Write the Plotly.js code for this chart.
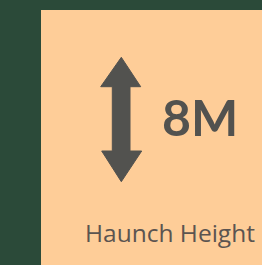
<!DOCTYPE html>
<html>
<head>
<meta charset="utf-8">
<script src="https://cdn.plot.ly/plotly-3.0.1.min.js"></script>
<style>html,body{margin:0;padding:0;background:#2b4a39;}#chart{width:262px;height:265px;}</style>
</head>
<body>
<div id="chart"></div>
<script>
// Data
const metricLabels = ["Haunch Height"];
const metricValues = [8];
const metricUnits = ["M"];

const bg = "#2b4a39";
const card = "#fecd98";
const ink = "#52524f";

// arrow path in axis units (decoration)
const arrowPath = "M121.3,57.3 L100.7,86.7 L112.3,86.7 L112.3,151 L101.7,151 L121.3,181.7 L141.7,151 L130,151 L130,86.7 L140.7,86.7 Z";

const layout = {
  width: 262, height: 265,
  margin: {l:0, r:0, t:0, b:0},
  paper_bgcolor: bg, plot_bgcolor: bg,
  showlegend: false,
  xaxis: {range:[0,262], visible:false, fixedrange:true},
  yaxis: {range:[265,0], visible:false, fixedrange:true},
  shapes: [
    {type:"rect", xref:"x", yref:"y", x0:41, x1:262, y0:10, y1:265, fillcolor:card, line:{width:0}, layer:"below"},
    {type:"path", xref:"x", yref:"y", path:arrowPath, fillcolor:ink, line:{color:ink, width:1}}
  ],
  annotations: [
    {xref:"x", yref:"y", x:160, y:117, xanchor:"left", yanchor:"middle", showarrow:false,
     text:"<b>"+metricValues[0]+metricUnits[0]+"</b>", font:{family:"Lato", size:50, color:ink}},
    {xref:"x", yref:"y", x:170, y:232, xanchor:"center", yanchor:"middle", showarrow:false,
     text:metricLabels[0], font:{family:"Open Sans", size:24.5, color:"#5b5450"}}
  ]
};
Plotly.newPlot("chart", [{x:[], y:[], type:"scatter", hoverinfo:"skip"}], layout, {staticPlot:true, displayModeBar:false});
</script>
</body>
</html>
